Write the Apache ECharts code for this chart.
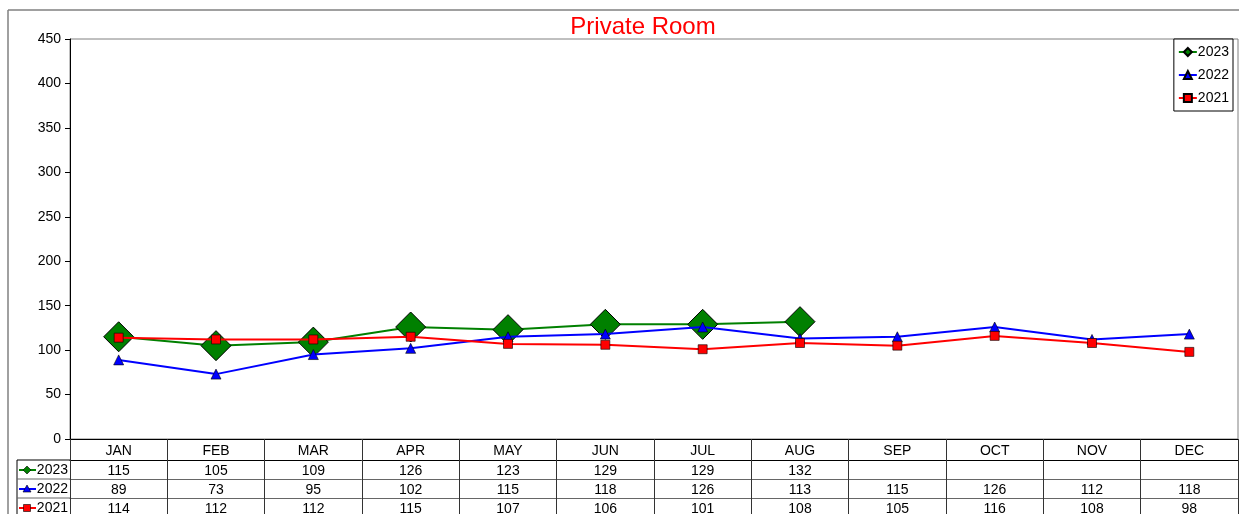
<!DOCTYPE html>
<html>
<head>
<meta charset="utf-8">
<style>
  html, body { margin: 0; padding: 0; background: #fff; }
  #chart { width: 1258px; height: 514px; }
</style>
<script src="https://cdn.jsdelivr.net/npm/echarts@6/dist/echarts.min.js"></script>
</head>
<body>
<div id="chart"></div>
<script>
const months = ['JAN', 'FEB', 'MAR', 'APR', 'MAY', 'JUN', 'JUL', 'AUG', 'SEP', 'OCT', 'NOV', 'DEC']
const years = ['2023', '2022', '2021']
const data2023 = [115, 105, 109, 126, 123, 129, 129, 132]
const data2022 = [89, 73, 95, 102, 115, 118, 126, 113, 115, 126, 112, 118]
const data2021 = [114, 112, 112, 115, 107, 106, 101, 108, 105, 116, 108, 98]
const colors = ['#008000', '#0000ff', '#ff0000']
const symbols = ['diamond', 'triangle', 'rect']

const font = 'Liberation Sans, Arial, sans-serif'
const rows = [data2023, data2022, data2021]

const chart = echarts.init(document.getElementById('chart'))

// extra category axes act as the rows of the data table under the plot
const tableAxes = rows.map((row, i) => ({
  type: 'category',
  data: months,
  position: 'bottom',
  offset: 21 + i * 19,
  axisLine: { show: true, lineStyle: { color: i === 0 ? '#000' : '#666', width: 1 } },
  axisTick: { show: false },
  axisLabel: {
    margin: 4,
    fontSize: 14,
    color: '#000',
    fontFamily: font,
    interval: 0,
    formatter: (v, idx) => (row[idx] === undefined ? '' : String(row[idx]))
  }
}))

// legend keys and frame lines in the left column of the table
const graphics = [
  { type: 'line', shape: { x1: 8, y1: 10, x2: 1239, y2: 10 }, style: { stroke: '#808080', lineWidth: 1.5 } },
  { type: 'line', shape: { x1: 8, y1: 10, x2: 8, y2: 514 }, style: { stroke: '#808080', lineWidth: 1.5 } },
  { type: 'line', shape: { x1: 17, y1: 460, x2: 17, y2: 514 }, style: { stroke: '#000', lineWidth: 1 } }
]
years.forEach((y, i) => {
  const top = 460 + i * 19
  const cy = top + 10
  graphics.push({ type: 'line', shape: { x1: 17, y1: top, x2: 70, y2: top }, style: { stroke: i === 0 ? '#000' : '#666', lineWidth: 1 } })
  graphics.push({ type: 'line', shape: { x1: 19, y1: cy, x2: 36, y2: cy }, style: { stroke: colors[i], lineWidth: 2 } })
  let pts
  if (i === 0) pts = [[27, cy - 4], [31, cy], [27, cy + 4], [23, cy]]
  else if (i === 1) pts = [[27, cy - 4], [31, cy + 3], [23, cy + 3]]
  else pts = [[23.5, cy - 3.5], [30.5, cy - 3.5], [30.5, cy + 3.5], [23.5, cy + 3.5]]
  graphics.push({ type: 'polygon', shape: { points: pts }, style: { fill: colors[i], stroke: '#000', lineWidth: 0.6 } })
  graphics.push({
    type: 'text', x: 68, y: cy,
    style: { text: y, fontSize: 14, fontFamily: font, fill: '#000', align: 'right', verticalAlign: 'middle' }
  })
})

chart.setOption({
  animation: false,
  backgroundColor: '#fff',
  title: {
    text: 'Private Room',
    left: 638,
    textAlign: 'center',
    top: 10,
    textStyle: { color: '#ff0000', fontSize: 24, fontWeight: 'normal', fontFamily: font }
  },
  legend: {
    orient: 'vertical',
    right: 25,
    top: 39,
    backgroundColor: '#fff',
    borderColor: '#000',
    borderWidth: 1,
    borderRadius: 0,
    padding: [6, 4, 6, 4],
    itemGap: 9,
    itemWidth: 18,
    itemHeight: 10,
    data: years,
    textStyle: { fontSize: 14, fontFamily: font, color: '#000', padding: [0, 0, 0, -4] }
  },
  grid: {
    left: 70,
    right: 20,
    top: 39,
    bottom: 75,
    outerBoundsMode: 'none',
    show: true,
    borderColor: '#808080',
    borderWidth: 1
  },
  xAxis: [
    {
      type: 'category',
      data: months,
      axisLine: { lineStyle: { color: '#000', width: 1 } },
      axisTick: { show: true, inside: false, length: 80, interval: 0, lineStyle: { color: '#333' } },
      axisLabel: { margin: 5, fontSize: 14, color: '#000', fontFamily: font, interval: 0 }
    },
    ...tableAxes
  ],
  yAxis: {
    type: 'value',
    min: 0,
    max: 450,
    interval: 50,
    splitLine: { show: false },
    axisLine: { show: true, lineStyle: { color: '#000', width: 1 } },
    axisTick: { show: true, length: 5, lineStyle: { color: '#000' } },
    axisLabel: { margin: 9, fontSize: 14, color: '#000', fontFamily: font }
  },
  series: [
    {
      name: '2023', type: 'line', data: data2023, symbol: symbols[0], symbolSize: 30,
      color: colors[0], lineStyle: { color: colors[0], width: 2 },
      itemStyle: { color: colors[0], borderColor: '#000', borderWidth: 1 }, z: 2
    },
    {
      name: '2022', type: 'line', data: data2022, symbol: symbols[1], symbolSize: 10,
      color: colors[1], lineStyle: { color: colors[1], width: 2 },
      itemStyle: { color: colors[1], borderColor: '#000', borderWidth: 0.6 }, z: 3
    },
    {
      name: '2021', type: 'line', data: data2021, symbol: symbols[2], symbolSize: 9,
      color: colors[2], lineStyle: { color: colors[2], width: 2 },
      itemStyle: { color: colors[2], borderColor: '#000', borderWidth: 0.6 }, z: 4
    }
  ],
  graphic: graphics
})
</script>
</body>
</html>
